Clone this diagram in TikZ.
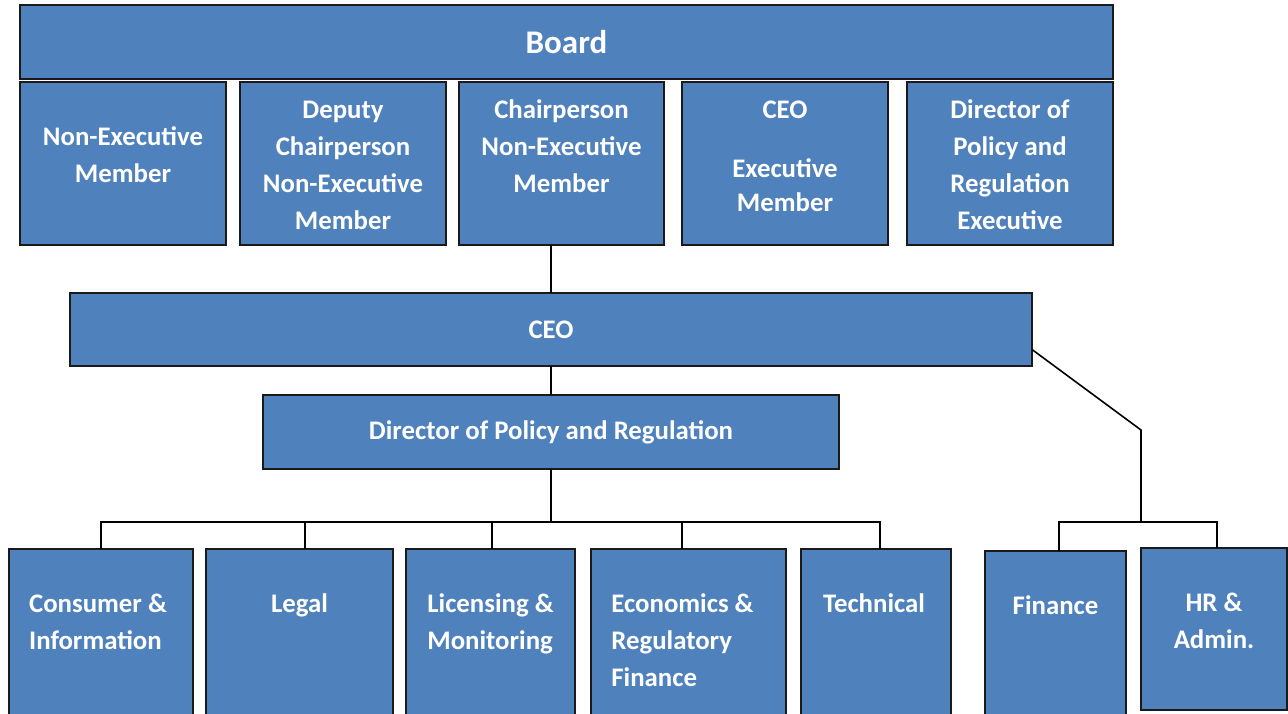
\documentclass[tikz,border=0pt]{standalone}
\usepackage{fontspec}
\setmainfont{Carlito}
\usetikzlibrary{positioning}
\definecolor{azul}{HTML}{4F81BD}
\definecolor{borde}{HTML}{1A1A1A}

\begin{document}
\begin{tikzpicture}[x=0.5pt, y=-0.5pt,
  caja/.style 2 args={draw=borde, line width=1.1pt, fill=azul, anchor=north west,
    inner sep=0pt, outer sep=0pt, minimum width=#1*0.5pt, minimum height=#2*0.5pt,
    text=white, font=\bfseries\fontsize{13.4}{18.5}\selectfont},
  texto/.style={text=white, font=\bfseries\fontsize{13.4}{18.5}\selectfont,
    inner sep=0pt, anchor=base},
  linea/.style={draw=black, line width=1pt}]
\useasboundingbox (0,0) rectangle (1288,713);

% Consejo (el ancla base queda en la ultima linea)
\node[caja={1093}{74}, font=\bfseries\fontsize{16.5}{19}\selectfont] (board) at (20,5) {Board};
\node[caja={206}{163}] (nonexec) at (20,82) {};
\node[caja={206}{163}] (deputy) at (240,82) {};
\node[caja={205}{163}] (chair) at (459,82) {};
\node[caja={206}{163}] (ceoexec) at (682,82) {};
\node[caja={206}{163}] (dirpol) at (907,82) {};
\node[texto, align=center] (t-nonexec) at ([yshift=-50.25pt]nonexec.north) {Non-Executive\\Member};
\node[texto, align=center] (t-deputy) at ([yshift=-73.75pt]deputy.north) {Deputy\\Chairperson\\Non-Executive\\Member};
\node[texto, align=center] (t-chair) at ([yshift=-55.25pt]chair.north) {Chairperson\\Non-Executive\\Member};
\node[texto, align=center] (t-ceoexec) at ([yshift=-64.75pt]ceoexec.north) {CEO\\[11pt]Executive\\[-1.5pt]Member};
\node[texto, align=center] (t-dirpol) at ([yshift=-73.75pt]dirpol.north) {Director of\\Policy and\\Regulation\\Executive};

% Direccion
\node[caja={962}{73}] (ceo) at (70,293) {CEO};
\node[caja={576}{74}] (dpr) at (263,395) {Director of Policy and Regulation};

% Departamentos
\node[caja={184}{170}] (consumer) at (9,549) {};
\node[caja={187}{170}] (legal) at (206,549) {};
\node[caja={169}{170}] (licensing) at (406,549) {};
\node[caja={195}{170}] (economics) at (591,549) {};
\node[caja={150}{170}] (technical) at (801,549) {};
\node[caja={141}{170}] (finance) at (985,551) {};
\node[caja={146}{162}] (hr) at (1141,548) {};
\node[texto, align=left] (t-consumer) at ([xshift=-1.5pt, yshift=-50.25pt]consumer.north) {Consumer \&\\Information};
\node[texto, align=left] (t-legal) at ([yshift=-31.75pt]legal.north) {Legal};
\node[texto, align=left] (t-licensing) at ([yshift=-50.25pt]licensing.north) {Licensing \&\\Monitoring};
\node[texto, align=left] (t-economics) at ([xshift=-3pt, yshift=-68.75pt]economics.north) {Economics \&\\Regulatory\\Finance};
\node[texto, align=left] (t-technical) at ([xshift=-1pt, yshift=-31.75pt]technical.north) {Technical};
\node[texto, align=left] (t-finance) at ([yshift=-31.75pt]finance.north) {Finance};
\node[texto, align=center] (t-hr) at ([yshift=-50.25pt]hr.north) {HR \&\\Admin.};

% Conectores
\coordinate (bus) at (551,522);
\coordinate (codo) at (1141,430);
\coordinate (bus2) at (1141,522);
\draw[linea] (ceo.north) -- (ceo.north |- chair.south);
\draw[linea] (ceo.south) -- (dpr.north);
\draw[linea] (dpr.south) -- (bus);
\foreach \n/\dx in {consumer/0,legal/2.5,licensing/0.75,economics/-3.25,technical/2}
  \draw[linea] ([xshift=\dx pt]\n.north) |- (bus);
\draw[linea, line width=0.8pt] ([yshift=-10pt]ceo.east) -- (codo) -- (bus2);
\foreach \n in {finance,hr}
  \draw[linea] ([xshift=1.5pt]\n.north) |- (bus2);
\end{tikzpicture}
\end{document}
